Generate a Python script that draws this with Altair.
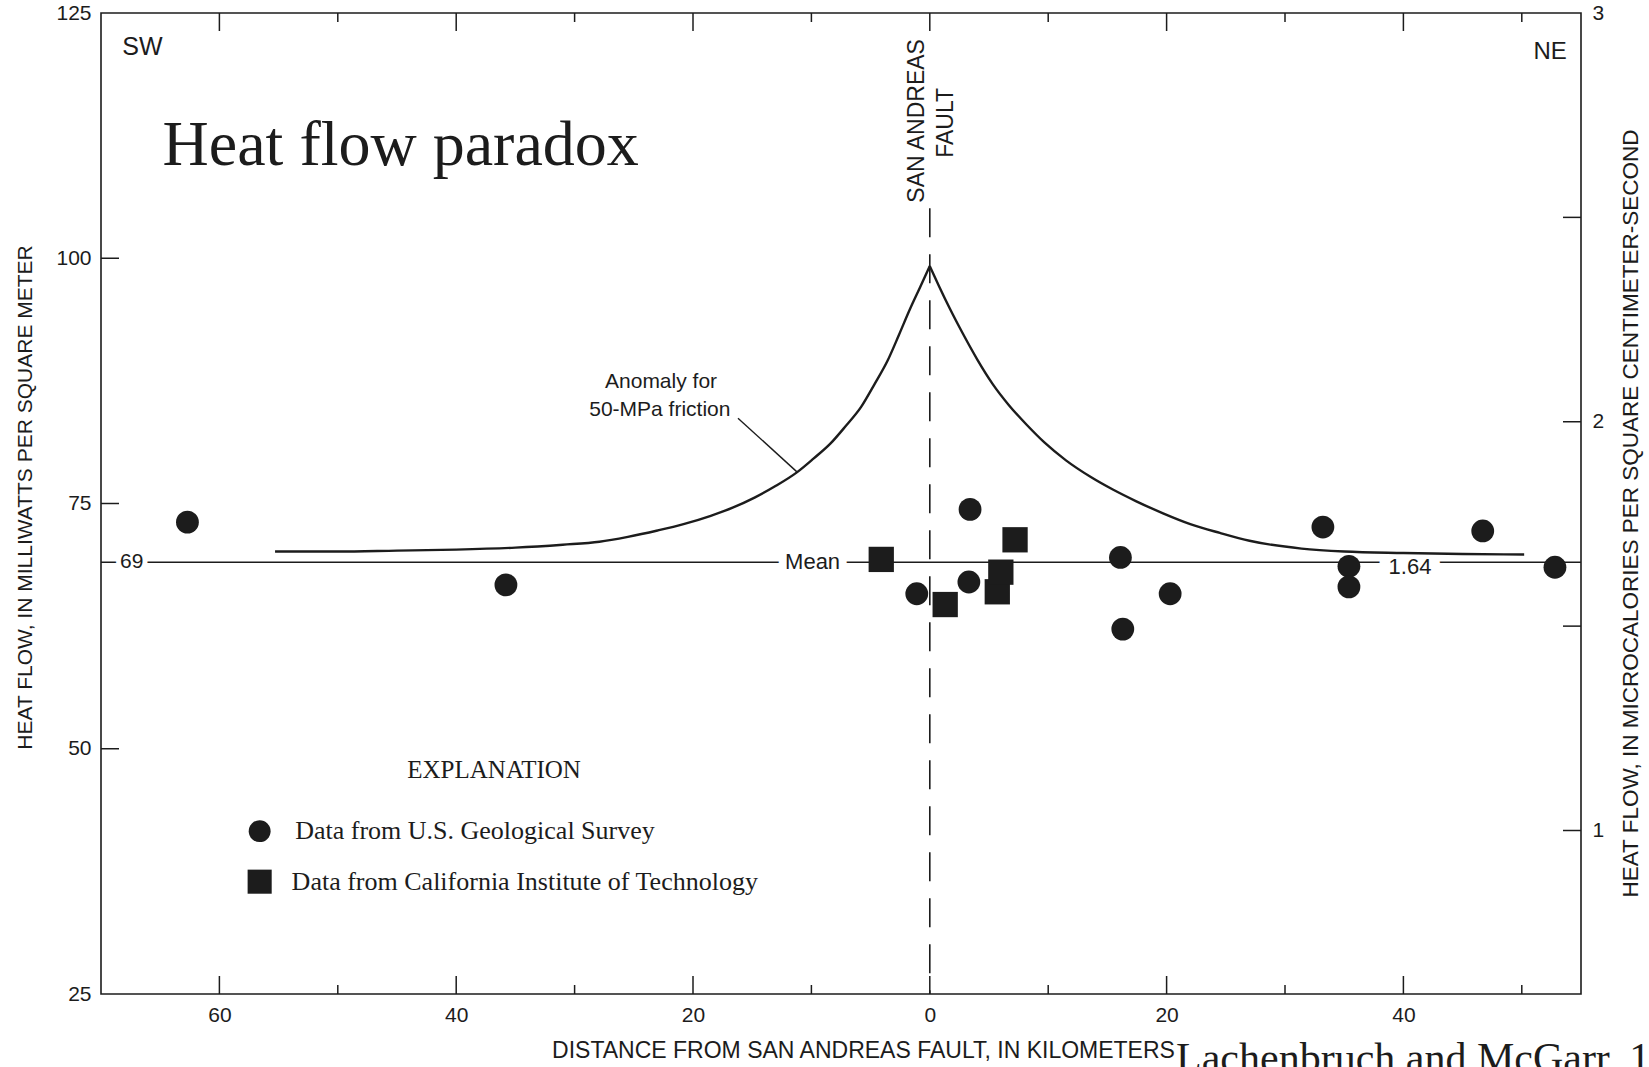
import altair as alt
import pandas as pd

# ---------------------------------------------------------------------------
# Data: distance from the San Andreas fault (km, negative = southwest side)
# and surface heat flow (mW/m^2).
# ---------------------------------------------------------------------------
usgs_km = [-62.7, -35.8, -1.1, 3.3, 3.4, 16.1, 16.3, 20.3, 33.2, 35.4, 35.4, 46.7, 52.8]
usgs_hf = [73.1, 66.7, 65.8, 67.0, 74.4, 69.5, 62.2, 65.8, 72.6, 68.6, 66.5, 72.2, 68.5]

caltech_km = [-4.1, 1.3, 5.7, 6.0, 7.2]
caltech_hf = [69.3, 64.7, 66.0, 68.0, 71.3]

# Predicted heat-flow anomaly for 50-MPa frictional stress on the fault,
# southwest branch and northeast branch (both include the fault itself)
anomaly_sw_km = [-55.3, -50, -45, -40, -35, -31, -27.9, -25.5, -23, -20.8, -18.5, -16.6,
                 -14.8, -13, -11.2, -9.8, -8.4, -7.1, -5.8, -4.7, -3.55, -2.6, -1.7, -0.8, 0]
anomaly_sw_hf = [70.1, 70.1, 70.2, 70.3, 70.5, 70.8, 71.1, 71.6, 72.25, 72.9, 73.75, 74.6,
                 75.6, 76.8, 78.2, 79.6, 81.1, 82.9, 84.85, 87.1, 89.6, 92.2, 94.75, 97.1, 99.2]
anomaly_ne_km = [0, 0.8, 1.7, 2.8, 4.0, 5.3, 6.7, 8.2, 9.7, 11.5, 13.6, 15.5, 17.4, 19.7,
                 22.0, 24.5, 27.0, 31.4, 35.0, 40.0, 45.0, 50.2]
anomaly_ne_hf = [99.2, 97.1, 94.85, 92.3, 89.7, 87.2, 85.0, 83.0, 81.2, 79.4, 77.7, 76.4, 75.25,
                 74.0, 72.9, 72.0, 71.2, 70.4, 70.1, 69.95, 69.85, 69.8]

mean_hf = 69          # mW/m^2
mean_hfu = "1.64"     # microcal/cm^2-s

# Axis ticks
x_major = [-60, -40, -20, 0, 20, 40]
x_minor = [-50, -30, -10, 10, 30, 50]
y_labels = [25, 50, 75, 100, 125]
y_inner_ticks = [50, 75, 100]
hfu_labels = [1, 2, 3]
hfu_ticks = [1, 1.5, 2, 2.5]

# Fault trace (dashed line) and the leader from the curve label
fault_km = [0]
fault_top_hf = [105.1]
leader_km = [-16.2, -11.2]
leader_hf = [83.7, 78.2]

# ---------------------------------------------------------------------------
W, H = 1480, 981
INK = "#1c1c1c"
SANS = "Liberation Sans"
SERIF = "Liberation Serif"

xs = alt.Scale(domain=[-70, 55], nice=False, zero=False)
ys = alt.Scale(domain=[25, 125], nice=False, zero=False)
hs = alt.Scale(domain=[0.6, 3.0], nice=False, zero=False)

x_axis = alt.Axis(values=x_major, labelExpr="abs(datum.value)",
                  title="DISTANCE FROM SAN ANDREAS FAULT, IN KILOMETERS",
                  titleX=762, titleY=56, titleBaseline="middle", titleAlign="center",
                  titleFontSize=23, titleFontWeight="normal",
                  labelFontSize=21, labelPadding=10, labelFlush=False,
                  ticks=False, tickSize=0, domain=False, grid=False)
y_axis = alt.Axis(values=y_labels, format="d",
                  title="HEAT FLOW, IN MILLIWATTS PER SQUARE METER",
                  titleX=-76, titleY=484, titleAngle=270, titleBaseline="middle",
                  titleAlign="center", titleFontSize=21, titleFontWeight="normal",
                  labelFontSize=21, labelPadding=10, labelFlush=False,
                  ticks=False, tickSize=0, domain=False, grid=False)
h_axis = alt.Axis(orient="right", values=hfu_labels, format="d",
                  title="HEAT FLOW, IN MICROCALORIES PER SQUARE CENTIMETER-SECOND",
                  titleX=49, titleY=500, titleAngle=270, titleBaseline="middle",
                  titleAlign="center", titleFontSize=22.5, titleFontWeight="normal",
                  labelFontSize=21, labelPadding=11, labelFlush=False,
                  ticks=False, tickSize=0, domain=False, grid=False)

X = alt.X("x:Q", scale=xs, axis=x_axis)
Y = alt.Y("y:Q", scale=ys, axis=y_axis)


def frame(xv, yv, **extra):
    d = {"x": xv, "y": yv}
    d.update(extra)
    return pd.DataFrame(d)


def text(df, size, font=SANS, halo=None, **mark):
    base = dict(fontSize=size, font=font, **mark)
    layers = []
    if halo:
        layers.append(alt.Chart(df).mark_text(fill="white", stroke="white",
                                              strokeWidth=halo, strokeJoin="round",
                                              **base).encode(x=X, y=Y, text="t:N"))
    layers.append(alt.Chart(df).mark_text(fill=INK, **base).encode(x=X, y=Y, text="t:N"))
    return layers


# inward tick marks along the frame
bottom_major = alt.Chart(frame(x_major, [0] * 6)).mark_rule(color=INK, strokeWidth=1.5).encode(
    x=X, y=alt.value(H), y2=alt.value(H - 18))
bottom_minor = alt.Chart(frame(x_minor, [0] * 6)).mark_rule(color=INK, strokeWidth=1.5).encode(
    x=X, y=alt.value(H), y2=alt.value(H - 9))
top_major = alt.Chart(frame(x_major, [0] * 6)).mark_rule(color=INK, strokeWidth=1.5).encode(
    x=X, y=alt.value(0), y2=alt.value(18))
top_minor = alt.Chart(frame(x_minor, [0] * 6)).mark_rule(color=INK, strokeWidth=1.5).encode(
    x=X, y=alt.value(0), y2=alt.value(9))
left_ticks = alt.Chart(frame([0] * 3, y_inner_ticks)).mark_rule(color=INK, strokeWidth=1.5).encode(
    y=Y, x=alt.value(0), x2=alt.value(18))

# mean heat flow line
mean_line = alt.Chart(frame([0], [mean_hf])).mark_rule(color=INK, strokeWidth=1.5).encode(y=Y)

# fault trace
fault = alt.Chart(pd.DataFrame({"x": fault_km, "y": fault_top_hf, "y2": [25]})).mark_rule(
    color=INK, strokeWidth=1.6, strokeDash=[29, 17]).encode(x=X, y=Y, y2="y2:Q")

# anomaly curve (two smooth branches meeting in a cusp at the fault) and its leader
curve_df = pd.concat([
    frame(anomaly_sw_km, anomaly_sw_hf, side="SW"),
    frame(anomaly_ne_km, anomaly_ne_hf, side="NE"),
])
curve = alt.Chart(curve_df).mark_line(
    color=INK, strokeWidth=2.4, interpolate="monotone").encode(x=X, y=Y, detail="side:N")
leader = alt.Chart(pd.DataFrame({"x": [leader_km[0]], "y": [leader_hf[0]],
                                 "x2": [leader_km[1]], "y2": [leader_hf[1]]})).mark_rule(
    color=INK, strokeWidth=1.4).encode(x=X, y=Y, x2="x2:Q", y2="y2:Q")

# measurements
usgs = alt.Chart(frame(usgs_km, usgs_hf)).mark_point(
    shape="circle", filled=True, size=520, color=INK, opacity=1, strokeWidth=0).encode(x=X, y=Y)
caltech = alt.Chart(frame(caltech_km, caltech_hf)).mark_point(
    shape="square", filled=True, size=640, color=INK, opacity=1, strokeWidth=0).encode(x=X, y=Y)

# explanation (legend)
leg_circle = alt.Chart(frame([-56.6], [41.6])).mark_point(
    shape="circle", filled=True, size=480, color=INK, opacity=1, strokeWidth=0).encode(x=X, y=Y)
leg_square = alt.Chart(frame([-56.6], [36.45])).mark_point(
    shape="square", filled=True, size=580, color=INK, opacity=1, strokeWidth=0).encode(x=X, y=Y)

labels = []
labels += text(frame([-67.4], [mean_hf], t=["69"]), 21, halo=10, align="center", baseline="middle")
labels += text(frame([-9.9], [mean_hf], t=["Mean"]), 22, halo=16, align="center", baseline="middle")
labels += text(frame([40.56], [mean_hf], t=[mean_hfu]), 22, halo=22, align="center",
               baseline="middle", dy=5)
labels += text(frame([-22.7, -22.8], [87.4, 84.5], t=["Anomaly for", "50-MPa friction"]), 21,
               align="center", baseline="middle")
labels += text(frame([-1.1], [114.0], t=["SAN ANDREAS"]), 23, align="center",
               baseline="middle", angle=270)
labels += text(frame([1.37], [113.8], t=["FAULT"]), 23, align="center",
               baseline="middle", angle=270)
labels += text(frame([-68.2], [120.7], t=["SW"]), 25, align="left", baseline="alphabetic")
labels += text(frame([53.8], [120.3], t=["NE"]), 24, align="right", baseline="alphabetic")
labels += text(frame([-64.8], [109.5], t=["Heat flow paradox"]), 64, font=SERIF,
               align="left", baseline="alphabetic")
labels += text(frame([-36.8], [47.8], t=["EXPLANATION"]), 25, font=SERIF,
               align="center", baseline="middle")
labels += text(frame([-53.6, -53.9], [41.6, 36.45],
                     t=["Data from U.S. Geological Survey",
                        "Data from California Institute of Technology"]), 26, font=SERIF,
               align="left", baseline="middle")
labels += text(frame([20.8], [17.0], t=["Lachenbruch and McGarr, 1990"]), 42, font=SERIF,
               align="left", baseline="alphabetic")

left = alt.layer(bottom_major, bottom_minor, top_major, top_minor, left_ticks,
                 mean_line, *labels[:6], fault, curve, leader, usgs, caltech,
                 leg_circle, leg_square, *labels[6:])

right = alt.Chart(pd.DataFrame({"v": hfu_ticks})).mark_rule(color=INK, strokeWidth=1.5).encode(
    y=alt.Y("v:Q", scale=hs, axis=h_axis), x=alt.value(W), x2=alt.value(W - 18))

chart = alt.layer(left, right).resolve_scale(y="independent").properties(
    width=W, height=H,
    padding={"left": 101, "top": 13, "right": 68, "bottom": 73},
    autosize=alt.AutoSizeParams(type="none"),
    background="white",
).configure_view(
    stroke=INK, strokeWidth=1.6
).configure_axis(
    labelFont=SANS, titleFont=SANS, labelColor=INK, titleColor=INK
)

chart.save("out.html", embed_options={"renderer": "svg", "actions": False})
